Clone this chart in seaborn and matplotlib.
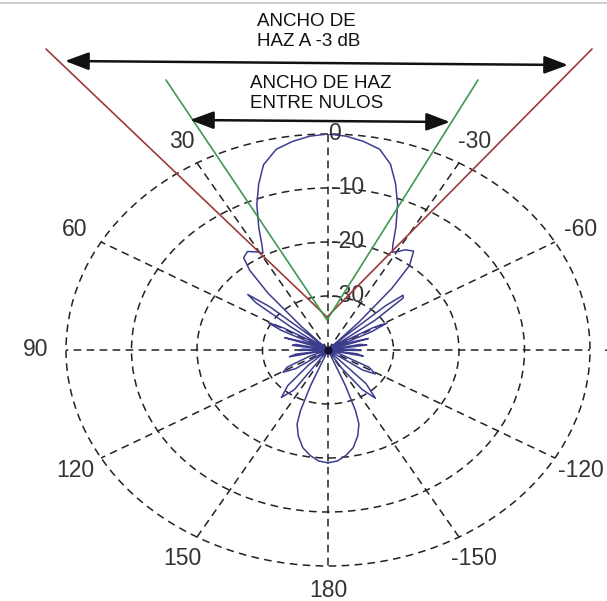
import matplotlib
matplotlib.use("Agg")
import matplotlib.pyplot as plt
import numpy as np
import pandas as pd
import seaborn as sns

# diagrama de radiacion (angulo en grados, positivo hacia la izquierda; nivel en dB)
ang_der = [-180, -176, -172, -168, -164, -161, -159.5, -158, -156,
           -152, -148, -144.5, -141, -137, -133,
           -129, -125, -121.5, -117, -112,
           -105, -102, -99, -94, -91, -88, -84, -81, -78, -74, -71, -68,
           -65, -63, -61, -59, -57,
           -54.5, -52.5, -50, -48.5, -47, -45.5,
           -44, -42.5, -40.5, -38.5, -35.5, -32.5, -30.5, -28.5,
           -27, -24.5, -21.5, -18.5, -15.5, -12, -8, -4]
db_der = [-19.1, -19.4, -20.3, -21.5, -23.5, -25.5, -28, -33, -40,
          -40, -36, -31, -28.5, -31.5, -40,
          -40, -33.5, -31.5, -33, -38,
          -40, -34.5, -35.5, -40, -35, -36, -40, -34, -35, -40, -33.5, -36,
          -40, -32.5, -29.7, -32, -37,
          -40, -31, -25, -24.7, -28, -36,
          -40, -33, -25, -20, -17.5, -18, -18.8, -19.4,
          -18.2, -15, -11, -7.5, -4.3, -2.0, -1.0, -0.3]

ang_izq = [0, 4, 8, 12, 16, 19, 22, 25, 27.5, 29,
           31, 34, 37, 39, 41, 43, 44.5,
           46, 48, 50, 51.5, 53, 54.5,
           57, 59, 61, 63, 65,
           68, 71, 74, 78, 81, 84, 88, 91, 94, 99, 102, 105,
           112, 117, 121, 125, 129,
           133, 137, 141, 145, 149,
           156, 158, 159.5, 161, 164, 168, 172, 176, 180]
db_izq = [0, -0.3, -1.0, -2.0, -4.3, -7.5, -11, -15, -18.2, -19.5,
          -18.8, -18.0, -18.6, -21, -26, -34, -40,
          -36, -28, -24, -26, -33, -40,
          -37, -32, -29.6, -32, -40,
          -36, -33, -40, -35, -34.5, -40, -36, -35.5, -40, -35, -34, -40,
          -37, -33, -32, -34, -40,
          -36, -31, -28.7, -31, -40,
          -40, -33, -28, -25.5, -23.5, -21.5, -20.3, -19.4, -19.1]

etiq_ang = [30, 60, 90, 120, 150, 180, -150, -120, -90, -60, -30]
etiq_anillo = [-30, -20, -10, 0]

df = pd.DataFrame({"ang": ang_der + ang_izq, "db": db_der + db_izq})
df["theta"] = np.deg2rad(df["ang"])

sns.set_theme(style="white")
plt.rcParams["font.family"] = ["Liberation Sans", "DejaVu Sans"]

fig = plt.figure(figsize=(6.07, 6.01), dpi=100)
ax = fig.add_axes([66 / 607, 35 / 601, 524 / 607, 432 / 601], projection="polar")
ax.set_aspect("auto")
ax.set_theta_zero_location("N")
ax.set_theta_direction(1)
ax.set_ylim(-40, 0)
ax.set_rgrids(etiq_anillo, labels=[""] * len(etiq_anillo))
ax.set_thetagrids(range(0, 360, 30), labels=[""] * 12)
ax.grid(True, color="#222222", linestyle=(0, (5, 3.5)), linewidth=1.1)
for gl in ax.yaxis.get_gridlines() + ax.xaxis.get_gridlines():
    gl.set_clip_on(False)
ax.spines["polar"].set_visible(False)
ax.set_facecolor("none")

sns.lineplot(data=df, x="theta", y="db", sort=False, estimator=None,
             color="#3d3d8f", linewidth=1.1, ax=ax)
ax.plot([0], [-40], marker="o", markersize=5, color="#111133")
ax.set_xlabel("")
ax.set_ylabel("")

gris = "#333333"
for a in etiq_ang:
    ax.text(np.deg2rad(a), 4.6, str(a), ha="center", va="center",
            fontsize=16.5, color=gris, clip_on=False)
for r in etiq_anillo:
    ax.annotate(str(r), xy=(0, r), xytext=(2 if r != 0 else 0, 0),
                textcoords="offset points", ha="left", va="center",
                fontsize=16.5, color=gris)

# capa de anotaciones en pixeles
ov = fig.add_axes([0, 0, 1, 1])
ov.set_xlim(0, 607)
ov.set_ylim(601, 0)
ov.axis("off")
ov.patch.set_alpha(0)

ov.axhline(3, color="#c4c4c4", linewidth=1.2)
ov.plot([46, 327, 592], [49, 317, 49], color="#9e3a3a", linewidth=1.2)
ov.plot([166, 327, 478], [80, 320, 80], color="#3f9a4f", linewidth=1.2)

flecha = dict(arrowstyle="<|-|>,head_length=0.8,head_width=0.3",
              mutation_scale=18, color="#111111", linewidth=1.8,
              shrinkA=0, shrinkB=0)
ov.annotate("", xy=(65, 61), xytext=(568, 65), arrowprops=flecha)
ov.annotate("", xy=(190, 120), xytext=(450, 122), arrowprops=flecha)

txt = dict(fontsize=13.5, color="#111111", ha="left", va="center")
ov.text(257, 21, "ANCHO DE", **txt)
ov.text(257, 41.5, "HAZ A -3 dB", **txt)
ov.text(250, 83.5, "ANCHO DE HAZ", **txt)
ov.text(250, 103.5, "ENTRE NULOS", **txt)

fig.savefig("out.png", dpi=100, facecolor="white")
